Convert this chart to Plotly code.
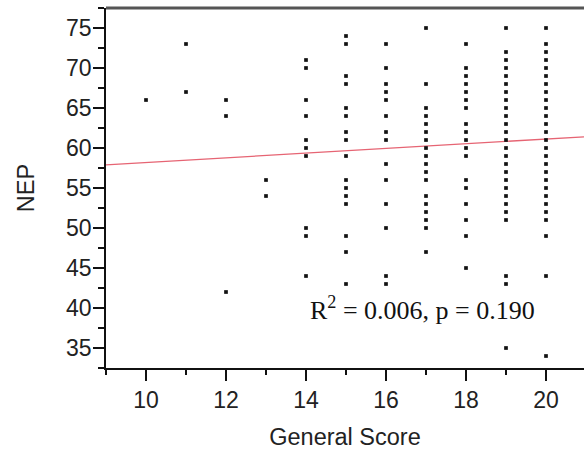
import plotly.graph_objects as go

# General Score (x) -> NEP values (y)
scores = [10, 11, 12, 13, 14, 15, 16, 17, 18, 19, 20]
nep_by_score = [
    [66],
    [73, 67],
    [66, 64, 42],
    [56, 54],
    [71, 70, 66, 64, 61, 60, 59, 50, 49, 44],
    [74, 73, 69, 68, 65, 64, 62, 61, 59, 56, 55, 54, 53, 49, 47, 43],
    [73, 70, 68, 67, 66, 64, 62, 61, 58, 56, 53, 50, 44, 43],
    [75, 68, 65, 64, 63, 62, 61, 60, 59, 58, 57, 56, 54, 53, 52, 51, 50, 47],
    [73, 70, 69, 68, 67, 66, 65, 63, 62, 61, 60, 59, 56, 55, 53, 51, 49, 45],
    [75, 72, 71, 70, 69, 68, 67, 66, 65, 64, 63, 62, 61, 60, 59, 58, 57, 56,
     55, 54, 53, 52, 51, 44, 43, 35],
    [75, 73, 72, 71, 70, 69, 68, 67, 66, 65, 64, 63, 62, 61, 60, 59, 58, 57,
     56, 55, 54, 53, 52, 51, 49, 44, 34],
]

# linear fit (intercept, slope)
fit_intercept = 55.26
fit_slope = 0.293
x_range = [9, 20.95]
y_range = [32.5, 77.5]
stats_text = "R<sup>2</sup> = 0.006, p = 0.190"

xs, ys = [], []
for s, vals in zip(scores, nep_by_score):
    for v in vals:
        xs.append(s)
        ys.append(v)

fig = go.Figure()
line_x = x_range
line_y = [fit_intercept + fit_slope * v for v in line_x]
fig.add_trace(go.Scatter(x=line_x, y=line_y, mode="lines",
                         line=dict(color="rgb(230,100,115)", width=1.3),
                         hoverinfo="skip", showlegend=False))
fig.add_trace(go.Scatter(x=xs, y=ys, mode="markers",
                         marker=dict(symbol="square", size=3.7, color="#111",
                                     line=dict(width=0)),
                         showlegend=False))

tick_font = dict(family="Liberation Sans, Arial, sans-serif", size=23, color="#222")
title_font = dict(family="Liberation Sans, Arial, sans-serif", size=23.5, color="#222")

fig.update_layout(
    width=584, height=452,
    margin=dict(l=106, r=0, t=8, b=84),
    paper_bgcolor="white", plot_bgcolor="white",
    font=tick_font,
    xaxis=dict(range=x_range, showgrid=False, zeroline=False,
               showline=True, linecolor="#111", linewidth=1.5,
               ticks="outside", ticklen=11, tickwidth=1.5, tickcolor="#111",
               tick0=10, dtick=2, tickfont=tick_font,
               minor=dict(ticks="outside", ticklen=5, tickwidth=1.5,
                          tickcolor="#111", dtick=1, tick0=9),
               title=dict(text="General Score", font=title_font, standoff=16)),
    yaxis=dict(range=y_range, showgrid=False, zeroline=False,
               showline=True, linecolor="#111", linewidth=1.5,
               ticks="outside", ticklen=11, tickwidth=1.5, tickcolor="#111",
               tick0=35, dtick=5, tickfont=tick_font, ticklabelstandoff=-3,
               minor=dict(ticks="outside", ticklen=6, tickwidth=1.5,
                          tickcolor="#111", dtick=2.5, tick0=32.5),
               title=dict(text="NEP", font=title_font, standoff=25)),
    shapes=[dict(type="line", xref="paper", yref="paper", x0=0, x1=1, y0=1, y1=1,
                 line=dict(color="#555", width=3))],
    annotations=[dict(text=stats_text, x=14.05, y=40.0, xref="x", yref="y",
                      xanchor="left", yanchor="middle", showarrow=False,
                      font=dict(family="Liberation Serif, Times New Roman, serif",
                                size=26, color="#111"))],
)

fig.write_html("out.html",
               config={"displayModeBar": False},
               post_script="document.body.style.margin='0';"
                           "document.body.style.overflow='hidden';")
